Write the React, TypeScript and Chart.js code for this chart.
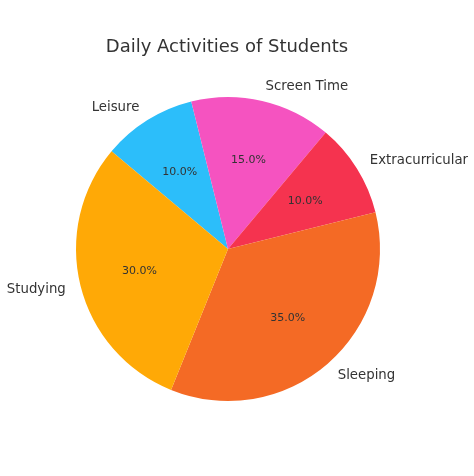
import { useEffect, useRef } from 'react';
import Chart from 'chart.js/auto';

// clockwise order, starting from the upper-left edge
const categories = ['Leisure', 'Screen Time', 'Extracurricular', 'Sleeping', 'Studying'];
const shares = [10, 15, 10, 35, 30];
const sliceColors = ['#2cbefa', '#f553c0', '#f5334f', '#f46a25', '#ffa906'];
const chartTitle = 'Daily Activities of Students';

const textColor = '#333333';
const fontFamily = '"DejaVu Sans", sans-serif';

const pieLabels = {
  id: 'pieLabels',
  afterDraw(chart: Chart) {
    const ctx = chart.ctx;
    const meta = chart.getDatasetMeta(0);
    const total = shares.reduce((a, b) => a + b, 0);

    ctx.save();
    ctx.fillStyle = textColor;

    // title
    ctx.font = `18px ${fontFamily}`;
    ctx.textAlign = 'center';
    ctx.textBaseline = 'middle';
    ctx.fillText(chartTitle, chart.width / 2 - 10, 47);

    meta.data.forEach((el: any, i: number) => {
      const { x, y, startAngle, endAngle, outerRadius } = el.getProps(
        ['x', 'y', 'startAngle', 'endAngle', 'outerRadius'],
        true
      );
      const mid = (startAngle + endAngle) / 2;
      const cx = Math.cos(mid);
      const cy = Math.sin(mid);

      // category label outside
      const lx = x + cx * outerRadius * 1.1;
      const ly = y + cy * outerRadius * 1.1;
      ctx.font = `13.3px ${fontFamily}`;
      ctx.textAlign = cx >= 0 ? 'left' : 'right';
      ctx.textBaseline = 'middle';
      ctx.fillText(categories[i], lx, ly);

      // percentage inside
      const px = x + cx * outerRadius * 0.6;
      const py = y + cy * outerRadius * 0.6;
      ctx.font = `11px ${fontFamily}`;
      ctx.textAlign = 'center';
      ctx.fillText(((shares[i] / total) * 100).toFixed(1) + '%', px, py);
    });
    ctx.restore();
  },
};

function PieChart() {
  const canvasRef = useRef<HTMLCanvasElement | null>(null);

  useEffect(() => {
    if (!canvasRef.current) return;
    const chart = new Chart(canvasRef.current, {
      type: 'pie',
      data: {
        labels: categories,
        datasets: [
          {
            data: shares,
            backgroundColor: sliceColors,
            borderWidth: 0,
          },
        ],
      },
      options: {
        responsive: false,
        animation: false,
        rotation: -50,
        layout: { padding: { left: 76, right: 94, top: 97, bottom: 75 } },
        plugins: {
          legend: { display: false },
          title: { display: false },
          tooltip: { enabled: false },
        },
      },
      plugins: [pieLabels],
    });

    return () => chart.destroy();
  }, []);

  return <canvas ref={canvasRef} width={474} height={476} style={{ display: 'block' }} />;
}

export default function App() {
  return (
    <div style={{ position: 'fixed', left: 0, top: 0, width: 474, height: 476, background: '#fff' }}>
      <PieChart />
    </div>
  );
}
